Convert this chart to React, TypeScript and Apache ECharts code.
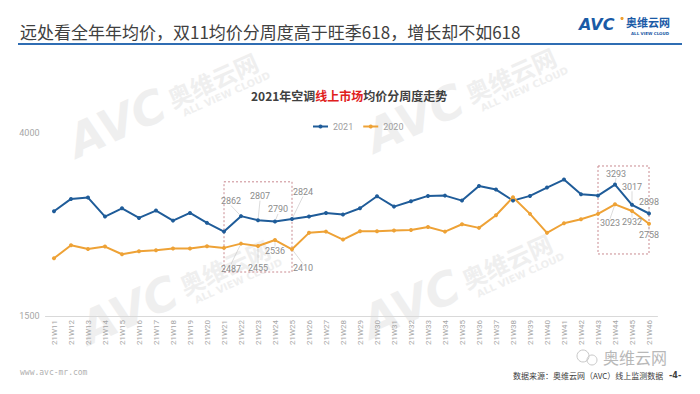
import React, { useEffect, useRef } from "react";
import * as echarts from "echarts";

const categories = [
  "21W11", "21W12", "21W13", "21W14", "21W15", "21W16", "21W17", "21W18", "21W19", "21W20",
  "21W21", "21W22", "21W23", "21W24", "21W25", "21W26", "21W27", "21W28", "21W29", "21W30",
  "21W31", "21W32", "21W33", "21W34", "21W35", "21W36", "21W37", "21W38", "21W39", "21W40",
  "21W41", "21W42", "21W43", "21W44", "21W45", "21W46",
];

const series2021 = [
  2928, 3097, 3115, 2856, 2969, 2838, 2938, 2801, 2906, 2770,
  2651, 2862, 2807, 2790, 2824, 2856, 2906, 2883, 2969, 3133,
  2992, 3065, 3138, 3142, 3074, 3274, 3224, 3074, 3138, 3252,
  3361, 3160, 3142, 3293, 3017, 2898,
];

const series2020 = [
  2287, 2465, 2415, 2447, 2342, 2383, 2397, 2420, 2420, 2451,
  2429, 2487, 2455, 2536, 2410, 2634, 2651, 2542, 2656, 2656,
  2665, 2674, 2715, 2651, 2751, 2702, 2874, 3119, 2893, 2634,
  2765, 2819, 2893, 3023, 2932, 2758,
];

const yTickLabels = [1500, 4000];
const yMin = 1500;
const yMax = 4000;

// highlighted boxes: [fromCategory, toCategory, topValue, bottomValue]
const boxes: [string, string, number, number][] = [
  ["21W21", "21W25", 3330, 2100],
  ["21W43", "21W46", 3546, 2346],
];

// label offsets (style only): dataIndex -> [dx, dy]
const offsets2021: Record<number, [number, number]> = {
  11: [-10, -15], 12: [2, -24], 13: [3, -12], 14: [11, -27],
  33: [1, -11], 34: [0, -18], 35: [0, -11],
};
const offsets2020: Record<number, [number, number]> = {
  11: [-10, 25], 12: [0, 22], 13: [0, 11], 14: [11, 19],
  33: [-5, 19], 34: [0, 11], 35: [0, 11],
};

const FONT = "Roboto, 'Noto Sans CJK SC', sans-serif";
const CJK = "'Noto Sans CJK SC', sans-serif";

function watermark(x: number, y: number) {
  const c = "#efefef";
  return {
    type: "group",
    x,
    y,
    rotation: 0.42,
    silent: true,
    z: 0,
    children: [
      {
        type: "text",
        x: 0,
        y: 0,
        style: {
          text: "AVC",
          fill: c,
          font: "italic 900 46px 'DejaVu Sans', sans-serif",
          verticalAlign: "bottom",
        },
      },
      {
        type: "text",
        x: 108,
        y: -12,
        style: {
          text: "奥维云网",
          fill: c,
          font: "bold 24px 'Noto Sans CJK SC', sans-serif",
          verticalAlign: "bottom",
        },
      },
      {
        type: "text",
        x: 115,
        y: -10,
        style: {
          text: "ALL VIEW CLOUD",
          fill: c,
          font: "bold 10px 'DejaVu Sans', sans-serif",
          verticalAlign: "top",
        },
      },
    ],
  };
}

function makeData(values: number[], offs: Record<number, [number, number]>) {
  return values.map((v, i) =>
    offs[i] ? { value: v, label: { show: true } } : v
  );
}

export default function App() {
  const ref = useRef<HTMLDivElement>(null);

  useEffect(() => {
    if (!ref.current) return;
    const chart = echarts.init(ref.current, null, { renderer: "svg" });

    const labelCommon = {
      show: false,
      position: "inside",
      color: "#8c8c8c",
      fontSize: 9,
      fontFamily: FONT,
    };
    const labelLineCommon = {
      show: true,
      length2: 0,
      lineStyle: { color: "#c4c4c4", width: 0.6 },
    };

    const option: any = {
      animation: false,
      backgroundColor: "#ffffff",
      textStyle: { fontFamily: FONT },
      title: {
        text: "{a|2021年空调}{b|线上市场}{a|均价分周度走势}",
        left: 246,
        top: 84,
        textStyle: {
          rich: {
            a: { fontSize: 12, fontWeight: "bold", color: "#404040", fontFamily: CJK },
            b: { fontSize: 12, fontWeight: "bold", color: "#e0201c", fontFamily: CJK },
          },
        },
      },
      legend: {
        data: ["2021", "2020"],
        left: 307,
        top: 117,
        itemWidth: 15,
        itemHeight: 5,
        itemGap: 9,
        textStyle: { fontSize: 9, color: "#a0a0a0", fontFamily: FONT },
      },
      grid: { left: 45.5, right: 42.5, top: 132.7, bottom: 78 },
      xAxis: {
        type: "category",
        data: categories,
        boundaryGap: true,
        axisLine: { lineStyle: { color: "#d9d9d9", width: 1 } },
        axisTick: { show: false },
        axisLabel: {
          rotate: 90,
          interval: 0,
          fontSize: 8,
          color: "#a6a6a6",
          margin: 4,
          fontFamily: FONT,
        },
      },
      yAxis: {
        type: "value",
        min: yMin,
        max: yMax,
        splitLine: { show: false },
        axisLine: { show: false },
        axisTick: { show: false },
        axisLabel: {
          fontSize: 9,
          color: "#a6a6a6",
          margin: 6,
          fontFamily: FONT,
          formatter: (v: number) => (yTickLabels.includes(v) ? String(v) : ""),
        },
      },
      series: [
        {
          name: "2021",
          type: "line",
          data: makeData(series2021, offsets2021),
          color: "#1f5c99",
          symbol: "circle",
          symbolSize: 4,
          lineStyle: { width: 2, color: "#1f5c99" },
          itemStyle: { color: "#1f5c99" },
          z: 3,
          label: labelCommon,
          labelLine: labelLineCommon,
          labelLayout: (p: any) => {
            const o = offsets2021[p.dataIndex];
            return o ? { dx: o[0], dy: o[1] } : {};
          },
          markArea: {
            silent: true,
            label: { show: false },
            itemStyle: {
              color: "rgba(0,0,0,0)",
              borderColor: "#c98a90",
              borderWidth: 1,
              borderType: [2, 2],
            },
            data: boxes.map((b) => [
              { xAxis: b[0], yAxis: b[2] },
              { xAxis: b[1], yAxis: b[3] },
            ]),
          },
        },
        {
          name: "2020",
          type: "line",
          data: makeData(series2020, offsets2020),
          color: "#eea236",
          symbol: "circle",
          symbolSize: 4,
          lineStyle: { width: 2, color: "#eea236" },
          itemStyle: { color: "#eea236" },
          z: 3,
          label: labelCommon,
          labelLine: labelLineCommon,
          labelLayout: (p: any) => {
            const o = offsets2020[p.dataIndex];
            return o ? { dx: o[0], dy: o[1] } : {};
          },
        },
      ],
      graphic: [
        watermark(80, 165),
        watermark(378, 160),
        watermark(92, 352),
        watermark(374, 346),
        {
          type: "text",
          x: 20,
          y: 31,
          z: 10,
          style: {
            text: "远处看全年年均价，双11均价分周度高于旺季618，增长却不如618",
            fill: "#404040",
            font: "17px 'Noto Sans CJK SC', sans-serif",
            verticalAlign: "middle",
          },
        },
        {
          type: "line",
          z: 10,
          shape: { x1: 18, y1: 44, x2: 682, y2: 44 },
          style: { stroke: "#2f6db3", lineWidth: 2 },
        },
        {
          type: "text",
          x: 579,
          y: 24,
          z: 10,
          style: {
            text: "AVC",
            fill: "#1a5aa6",
            font: "italic 900 16px 'DejaVu Sans', sans-serif",
            verticalAlign: "middle",
          },
        },
        {
          type: "circle",
          z: 11,
          shape: { cx: 622, cy: 18.5, r: 1.6 },
          style: { fill: "#f0a030" },
        },
        {
          type: "text",
          x: 626,
          y: 22,
          z: 10,
          style: {
            text: "奥维云网",
            fill: "#1a5aa6",
            font: "bold 11px 'Noto Sans CJK SC', sans-serif",
            verticalAlign: "middle",
          },
        },
        {
          type: "text",
          x: 631,
          y: 33,
          z: 10,
          style: {
            text: "ALL VIEW CLOUD",
            fill: "#1a5aa6",
            font: "bold 4px 'DejaVu Sans', sans-serif",
            verticalAlign: "middle",
          },
        },
        {
          type: "text",
          x: 20,
          y: 372,
          z: 10,
          style: {
            text: "www.avc-mr.com",
            fill: "#b0b0b0",
            font: "8px 'DejaVu Sans Mono', monospace",
            verticalAlign: "middle",
          },
        },
        {
          type: "circle",
          z: 10,
          shape: { cx: 583, cy: 356, r: 6 },
          style: { fill: "none", stroke: "#c8c8c8", lineWidth: 1 },
        },
        {
          type: "circle",
          z: 10,
          shape: { cx: 592, cy: 360, r: 5 },
          style: { fill: "none", stroke: "#c8c8c8", lineWidth: 1 },
        },
        {
          type: "text",
          x: 603,
          y: 357,
          z: 10,
          style: {
            text: "奥维云网",
            fill: "#b8b8b8",
            font: "16px 'Noto Sans CJK SC', sans-serif",
            verticalAlign: "middle",
          },
        },
        {
          type: "text",
          x: 513,
          y: 375,
          z: 11,
          style: {
            text: "数据来源：奥维云网（AVC）线上监测数据",
            fill: "#404040",
            font: "8px 'Noto Sans CJK SC', sans-serif",
            verticalAlign: "middle",
          },
        },
        {
          type: "text",
          x: 669,
          y: 375,
          z: 11,
          style: {
            text: "-4-",
            fill: "#404040",
            font: "bold 8px 'DejaVu Sans', sans-serif",
            verticalAlign: "middle",
          },
        },
      ],
    };

    chart.setOption(option);
    return () => chart.dispose();
  }, []);

  return (
    <div
      ref={ref}
      style={{ position: "fixed", left: 0, top: 0, width: 700, height: 394 }}
    />
  );
}
